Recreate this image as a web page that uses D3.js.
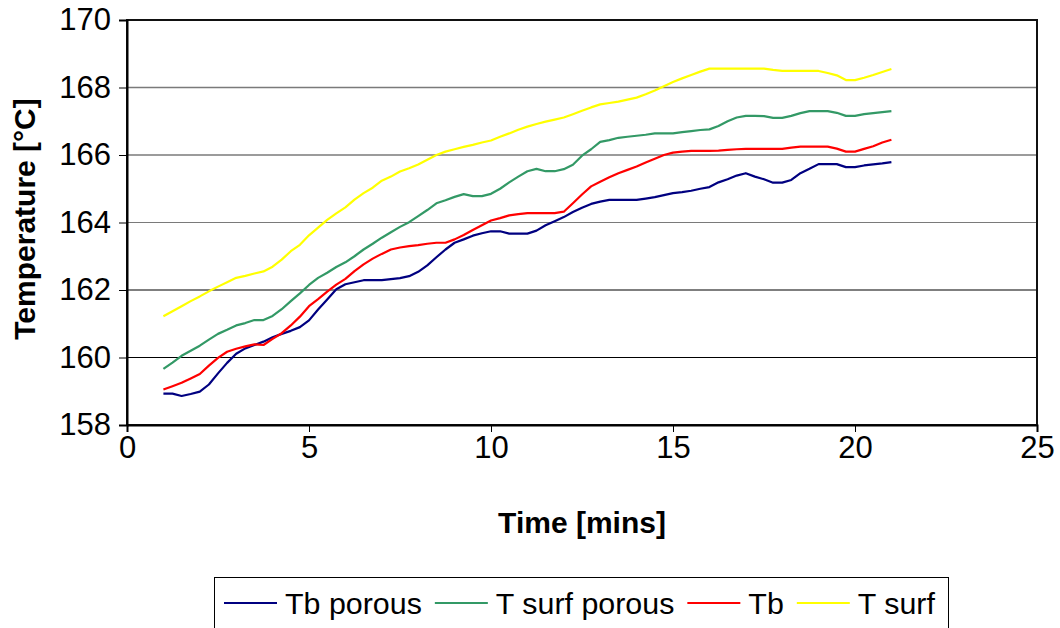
<!DOCTYPE html>
<html>
<head>
<meta charset="utf-8">
<script src="https://cdn.jsdelivr.net/npm/d3@7"></script>
<style>
  html, body { margin: 0; padding: 0; background: #fff; }
  svg { display: block; }
  text { font-family: "Liberation Sans", Arial, sans-serif; fill: #000; }
</style>
</head>
<body>
<svg id="chart" width="1060" height="628"></svg>
<script>
// ---- data ----
const timeMins = [1,1.25,1.5,1.75,2,2.25,2.5,2.75,3,3.25,3.5,3.75,4,4.25,4.5,4.75,5,5.25,5.5,5.75,
  6,6.25,6.5,6.75,7,7.25,7.5,7.75,8,8.25,8.5,8.75,9,9.25,9.5,9.75,10,10.25,10.5,10.75,
  11,11.25,11.5,11.75,12,12.25,12.5,12.75,13,13.25,13.5,13.75,14,14.25,14.5,14.75,15,15.25,15.5,15.75,
  16,16.25,16.5,16.75,17,17.25,17.5,17.75,18,18.25,18.5,18.75,19,19.25,19.5,19.75,20,20.25,20.5,20.75,21];

const tbPorous = [158.93,158.93,158.86,158.92,158.99,159.2,159.53,159.84,160.11,160.27,160.37,160.47,160.6,160.7,160.79,160.9,161.1,161.42,161.72,162.02,
  162.17,162.23,162.29,162.29,162.29,162.32,162.35,162.41,162.54,162.73,162.97,163.2,163.4,163.5,163.61,163.68,163.74,163.74,163.67,163.67,
  163.67,163.76,163.92,164.04,164.16,164.31,164.44,164.55,164.62,164.67,164.67,164.67,164.67,164.71,164.75,164.81,164.87,164.9,164.94,165.0,
  165.05,165.19,165.28,165.39,165.46,165.36,165.28,165.18,165.18,165.26,165.46,165.59,165.73,165.73,165.73,165.64,165.64,165.69,165.72,165.75,165.79];

const tSurfPorous = [159.66,159.85,160.05,160.2,160.35,160.53,160.7,160.82,160.95,161.02,161.11,161.11,161.23,161.43,161.67,161.9,162.15,162.36,162.51,162.68,
  162.82,163.0,163.2,163.37,163.55,163.71,163.87,164.01,164.19,164.37,164.57,164.66,164.76,164.84,164.78,164.78,164.85,165.0,165.19,165.36,
  165.52,165.59,165.52,165.52,165.58,165.71,165.98,166.17,166.39,166.44,166.51,166.54,166.57,166.6,166.64,166.64,166.64,166.68,166.71,166.74,
  166.76,166.86,167.0,167.11,167.16,167.16,167.15,167.1,167.1,167.16,167.24,167.3,167.3,167.3,167.25,167.16,167.16,167.21,167.24,167.27,167.3];

const tb = [159.05,159.15,159.25,159.38,159.51,159.76,159.99,160.17,160.26,160.33,160.39,160.37,160.55,160.72,160.95,161.21,161.52,161.73,161.95,162.16,
  162.33,162.56,162.76,162.93,163.07,163.2,163.26,163.3,163.33,163.37,163.4,163.4,163.5,163.63,163.78,163.92,164.06,164.13,164.21,164.25,
  164.28,164.28,164.28,164.28,164.32,164.57,164.83,165.07,165.21,165.34,165.46,165.56,165.66,165.78,165.89,166.0,166.07,166.1,166.12,166.12,
  166.12,166.13,166.15,166.17,166.18,166.18,166.18,166.18,166.18,166.22,166.25,166.25,166.25,166.25,166.19,166.1,166.1,166.18,166.26,166.37,166.45];

const tSurf = [161.22,161.37,161.52,161.67,161.81,161.96,162.1,162.23,162.36,162.42,162.49,162.55,162.69,162.9,163.15,163.34,163.62,163.85,164.08,164.27,
  164.45,164.68,164.87,165.03,165.24,165.36,165.51,165.61,165.72,165.86,166.0,166.1,166.17,166.24,166.3,166.37,166.43,166.54,166.64,166.75,
  166.84,166.92,166.99,167.05,167.11,167.21,167.31,167.41,167.5,167.54,167.58,167.64,167.7,167.8,167.91,168.04,168.16,168.27,168.37,168.47,
  168.56,168.56,168.56,168.56,168.56,168.56,168.56,168.52,168.49,168.49,168.49,168.49,168.49,168.43,168.36,168.22,168.22,168.29,168.37,168.46,168.55];

const seriesNames = ["Tb porous", "T surf porous", "Tb", "T surf"];
const xTicks = [0, 5, 10, 15, 20, 25];
const yTicks = [158, 160, 162, 164, 166, 168, 170];
const xTitle = "Time [mins]";
const yTitle = "Temperature [°C]";

// ---- styles ----
const colors = ["#000080", "#339966", "#FF0000", "#FFFF00"];
const seriesData = [tbPorous, tSurfPorous, tb, tSurf];

const svg = d3.select("#chart");
const L = 127, T = 20, R = 1037, B = 425;

const x = d3.scaleLinear().domain([0, 25]).range([L, R]);
const y = d3.scaleLinear().domain([158, 170]).range([B, T]);

// gridlines
svg.append("g").selectAll("line")
  .data(yTicks.filter(v => v > 158 && v < 170))
  .join("line")
  .attr("x1", L).attr("x2", R)
  .attr("y1", d => y(d)).attr("y2", d => y(d))
  .attr("stroke", d => d >= 164 ? "#7a7a7a" : "#000")
  .attr("stroke-width", d => d >= 166 ? 1.6 : 1.1);

// series lines
const line = d3.line().x((d, i) => x(timeMins[i])).y(d => y(d));
svg.append("g").selectAll("path")
  .data(seriesData)
  .join("path")
  .attr("d", d => line(d))
  .attr("fill", "none")
  .attr("stroke", (d, i) => colors[i])
  .attr("stroke-width", 2.2)
  .attr("stroke-linejoin", "round");

// frame
svg.append("rect")
  .attr("x", L).attr("y", T).attr("width", R - L).attr("height", B - T)
  .attr("fill", "none").attr("stroke", "#111").attr("stroke-width", 2);

// y axis
const yAxis = d3.axisLeft(y).tickValues(yTicks).tickSize(8).tickPadding(8).tickFormat(d3.format("d"));
const gy = svg.append("g").attr("transform", `translate(${L},0)`).call(yAxis);
gy.select(".domain").attr("stroke", "#000").attr("stroke-width", 2);
gy.selectAll(".tick line").attr("stroke", "#000");
gy.selectAll(".tick text").attr("font-size", 31).attr("font-family", "Liberation Sans, Arial, sans-serif").attr("fill", "#000");

// x axis
const xAxis = d3.axisBottom(x).tickValues(xTicks).tickSize(7).tickPadding(4).tickFormat(d3.format("d"));
const gx = svg.append("g").attr("transform", `translate(0,${B})`).call(xAxis);
gx.select(".domain").attr("stroke", "#000").attr("stroke-width", 2);
gx.selectAll(".tick line").attr("stroke", "#000");
gx.selectAll(".tick text").attr("font-size", 31).attr("font-family", "Liberation Sans, Arial, sans-serif").attr("fill", "#000");

// titles
svg.append("text")
  .attr("x", (L + R) / 2).attr("y", 533)
  .attr("text-anchor", "middle")
  .attr("font-size", 30).attr("font-weight", "bold")
  .text(xTitle);

svg.append("text")
  .attr("transform", `translate(35,219) rotate(-90)`)
  .attr("text-anchor", "middle")
  .attr("font-size", 30).attr("font-weight", "bold")
  .text(yTitle);

// legend
const lg = svg.append("g");
lg.append("rect")
  .attr("x", 214.5).attr("y", 577.5).attr("width", 734).attr("height", 70)
  .attr("fill", "#fff").attr("stroke", "#000").attr("stroke-width", 1);
let cx = 224;
seriesNames.forEach((name, i) => {
  lg.append("line")
    .attr("x1", cx).attr("x2", cx + 53)
    .attr("y1", 603).attr("y2", 603)
    .attr("stroke", colors[i]).attr("stroke-width", 2.2);
  const t = lg.append("text")
    .attr("x", cx + 61).attr("y", 614)
    .attr("font-size", 30.4)
    .text(name);
  cx = cx + 61 + t.node().getComputedTextLength() + 13;
});
</script>
</body>
</html>
